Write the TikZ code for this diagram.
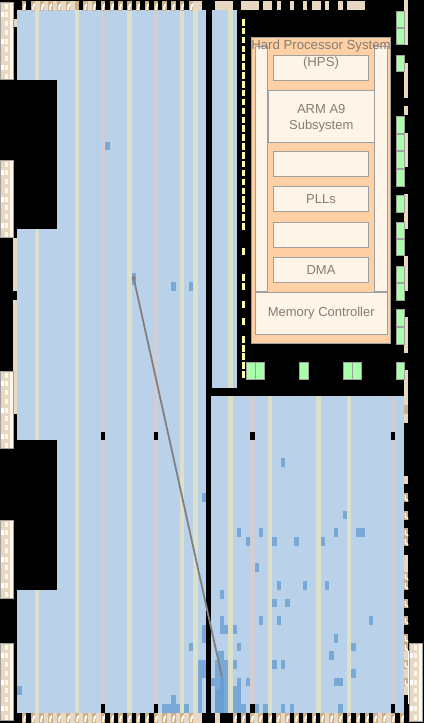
\documentclass[tikz,border=0pt]{standalone}
\usepackage{fontspec}
\setmainfont{Liberation Sans}
\usetikzlibrary{arrows.meta}
\definecolor{fabric}{HTML}{BAD1EA}
\definecolor{cellblue}{HTML}{78A8D6}
\definecolor{celldeep}{HTML}{6A9ED2}
\definecolor{dspstripe}{HTML}{DCE0C8}
\definecolor{ramstripe}{HTML}{D0CDD4}
\definecolor{padlight}{HTML}{E8D8C2}
\definecolor{paddark}{HTML}{CBB08A}
\definecolor{pinwin}{HTML}{FFF6EC}
\definecolor{hpsorange}{HTML}{FFD0A3}
\definecolor{hpscream}{HTML}{FFF4E8}
\definecolor{hpsedge}{HTML}{A0A0A0}
\definecolor{hpstext}{HTML}{857C74}
\definecolor{greencell}{HTML}{AAFFAA}
\definecolor{yellowcell}{HTML}{FFFFAA}
\tikzset{
  hpsblock/.style={draw=hpsedge,line width=0.9pt,fill=hpscream,text=hpstext,font=\fontsize{13}{16}\selectfont,align=center,inner sep=0pt,outer sep=0pt,anchor=north west},
  hpslabel/.style={text=hpstext,font=\fontsize{13.2}{16}\selectfont,inner sep=0pt},
  greenbox/.style={draw=hpsedge,line width=0.9pt,fill=greencell},
  linkarrow/.style={draw=gray,line width=1.8pt,-{Stealth[length=5pt,width=5pt]}}
}
% filled rectangle in pixel coordinates
\newcommand{\rr}[5]{\fill[#5] (#1,#2) rectangle (#3,#4);}
% vertical pin column
\newcommand{\pinbox}[3]{%
  \fill[padlight] (#1,#2) rectangle (#1+14,#3);
  \fill[pinwin] (#1+10,#2) rectangle (#1+13,#3);
  \pgfmathsetmacro{\rowsn}{int((#3-#2-4)/8.75)}
  \foreach \k in {0,...,\rowsn}{
    \pgfmathsetmacro{\yy}{#2+1.5+8.75*\k}
    \pgfmathsetmacro{\xo}{mod(\k,3)==0?5.5:(mod(\k,3)==1?1:5)}
    \fill[white] (#1+\xo,\yy) rectangle (#1+\xo+2.6,\yy+5);
    \fill[pinwin] (#1+5,\yy) rectangle (#1+8,\yy+5);
  }
  \draw[hpsedge,line width=1pt] (#1+.5,#2+.5) rectangle (#1+13.5,#3-.5);
}
% I/O pad with a white mark, horizontal rows
\newcommand{\padmark}[3]{%
  \fill[paddark] (#1,#3) rectangle (#2,#3+9.5);
  \fill[white] (#1+1.2,#3+8.8) -- (#1+1.6,#3+4) -- (#1+3.8,#3+2) -- (#1+3.8,#3+5) -- (#1+3.2,#3+6) -- (#1+3.2,#3+8.8) -- cycle;
}
% same on the right column
\newcommand{\sidemark}[2]{%
  \fill[paddark] (404,#1) rectangle (408,#2);
  \fill[white] (404.5,#1+2) -- (406,#1+2) -- (406,#1+5.5) -- (408.3,#1+7) -- (408.3,#1+8.5) -- (404.5,#1+6.5) -- cycle;
}
\begin{document}
\begin{tikzpicture}[x=1pt,y=-1pt]
\useasboundingbox (0,0) rectangle (424,723);
\fill[black] (0,0) rectangle (424,723);

% fabric
\rr{17}{10}{206}{713}{fabric}
\rr{212}{10}{237}{388}{fabric}
\rr{211}{396}{404}{713}{fabric}

% stripes left
\foreach \a/\b in {35/39,75/79,127/132,180/184,193/198}{\rr{\a}{10}{\b}{713}{dspstripe}}
\foreach \a/\b in {101/105,154/158}{\rr{\a}{10}{\b}{713}{ramstripe}}
% stripes right
\rr{228}{10}{233}{388}{dspstripe}
\foreach \a/\b in {228/233,268/272,316/321,347/351}{\rr{\a}{396}{\b}{713}{dspstripe}}
\foreach \a/\b in {250/255,391/395}{\rr{\a}{396}{\b}{713}{ramstripe}}

% used cells, left
\foreach \a/\b/\c/\d in {105/142/110/150,132/273/136/285,171/282/176/291,189/282/193/291,
  202/493/206/502,17/686/22/695,202/625/206/643,189/643/193/651,198/660/206/678,198/678/202/704,
  162/704/180/713,171/695/176/704,184/704/189/713,198/704/202/713}{\rr{\a}{\b}{\c}{\d}{cellblue}}
% used cells, right
\foreach \a/\b/\c/\d in {281/458/285/467,
  343/511/347/519,237/528/241/537,259/528/263/537,334/528/338/537,356/528/365/537,
  246/537/250/546,272/537/277/546,294/537/299/546,321/537/325/546,
  255/563/259/572,277/581/281/590,303/581/307/590,325/581/329/590,
  220/590/224/599,272/599/277/607,285/599/290/607,
  220/616/224/625,259/616/263/625,277/616/281/625,369/616/373/625,
  220/625/228/634,233/625/237/634,334/634/338/643,
  237/643/241/651,351/643/356/651,329/651/334/660,
  218/651/224/660,215/660/228/713,233/660/237/669,272/660/277/669,281/660/285/669,351/669/356/678,
  211/678/215/686,237/678/241/686,246/678/250/686,334/678/343/686,
  233/686/241/713,241/704/246/713,255/704/259/713,263/704/268/713,281/704/285/713,290/704/294/713,338/704/343/713}
  {\rr{\a}{\b}{\c}{\d}{cellblue}}
\rr{220}{678}{224}{713}{celldeep}
\rr{215}{690}{220}{713}{celldeep}

% black blocks
\rr{0}{80}{57}{229}{black}
\rr{0}{440}{57}{590}{black}
\foreach \a/\b in {101/105,154/158,250/255,391/395}{
  \rr{\a}{432}{\b}{440}{black}
  \rr{\a}{704}{\b}{713}{black}
}

% top pads
\foreach \a/\b in {31/79,83/96,193/202,215/233,241/259,263/272,277/281,290/294,303/307,312/321,325/329,338/343,347/365}{\rr{\a}{1}{\b}{10}{padlight}}
\foreach \a/\b in {22/26,31/35,40/44,48/53,57/61,66/70,83/88,92/96,101/105,110/114,118/123,127/132,136/140,145/149,154/158,162/167,171/176,180/184,189/193}{\padmark{\a}{\b}{1}}
\rr{75}{1}{79}{10}{paddark}

% bottom pads
\foreach \a/\b in {31/101,158/202,215/220,250/263,276/290,320/343,373/395}{\rr{\a}{713}{\b}{722.5}{padlight}}
\foreach \a/\b in {22/26,31/35,39/44,48/53,57/61,66/70,75/79,83/88,92/96,101/105,110/114,118/123,127/132,136/140,145/149,154/158,162/167,171/176,180/184,189/193,
  233/237,241/246,250/254,258/263,268/272,276/281,285/290,294/299,303/307,312/316,320/325,329/334,338/343,347/351,356/360,365/369,373/378,382/386,391/395,400/404}{\padmark{\a}{\b}{713}}

% left strip
\rr{13}{19}{17}{27}{padlight}
\rr{13}{238}{17}{291}{padlight}
\rr{13}{300}{17}{414}{padlight}

% right strip
\foreach \a/\b in {0/45,63/98,106/115,133/167,194/229,256/291,317/353,370/423,476/484,555/572,643/695}{\rr{404}{\a}{408}{\b}{padlight}}
\rr{404}{405}{408}{414}{paddark}
\foreach \a/\b in {493/502,511/520,528/537,537/546,572/581,581/590,599/608,616/625,634/643,643/651,660/669,678/686}{\sidemark{\a}{\b}}

% pin columns
\pinbox{0}{2}{80}
\pinbox{0}{160}{238}
\pinbox{0}{371}{449}
\pinbox{0}{520}{599}
\pinbox{0}{643}{721}
\pinbox{409}{643}{722}
\rr{408}{651}{409}{704}{white}

% yellow cells
\foreach \k in {0,...,23}{
  \pgfmathsetmacro{\yy}{19+8.87*\k}
  \rr{242}{\yy}{245}{\yy+6.5}{yellowcell}
}
\foreach \yy in {248,274,283,301,318,336,345,353,362,371}{\rr{242}{\yy}{245}{\yy+7}{yellowcell}}

% green cells
\foreach \a/\b in {11/27,28/44,55/71,116/133,134/150,151/168,169/186,195/212,222/238,239/255,266/282,283/300,309/326,327/344,362/379}{
  \draw[greenbox] (396.5,\a) rectangle (404.5,\b);
}
\foreach \a/\b in {246/255,255/264,299/308,343/352,352/361}{
  \draw[greenbox] (\a.5,362) rectangle (\b.5,379);
}

% HPS
\draw[draw=hpsedge,line width=0.9pt,fill=hpsorange] (251.5,37.5) rectangle (390.5,343);
\node[hpsblock,minimum width=12pt,minimum height=245pt] (hpsleft) at (255.5,46) {};
\node[hpsblock,minimum width=12.5pt,minimum height=245pt] (hpsright) at (374.5,46) {};
\node[hpsblock,minimum width=95pt,minimum height=24.5pt] (hpsbox) at (273.5,55.5) {};
\node[hpsblock,minimum width=105.5pt,minimum height=51.5pt] (armbox) at (268.5,90.5) {\rule{0pt}{14pt}ARM A9\\[0pt]Subsystem};
\node[hpsblock,minimum width=95pt,minimum height=25pt] (blanka) at (273.5,151.5) {};
\node[hpsblock,minimum width=95pt,minimum height=25pt] (pllbox) at (273.5,186.5) {PLLs};
\node[hpsblock,minimum width=95pt,minimum height=25pt] (blankb) at (273.5,222.5) {};
\node[hpsblock,minimum width=95pt,minimum height=24.5pt] (dmabox) at (273.5,257.5) {DMA};
\node[hpsblock,minimum width=131.5pt,minimum height=42pt] (membox) at (255.5,292.5) {Memory Controller};
\node[hpslabel] (hpstitle) at (321,46.5) {Hard Processor System};
\node[hpslabel] (hpssub) at (321,63) {(HPS)};

% critical path arrow
\coordinate (pathstart) at (222,677);
\coordinate (pathend) at (133,275);
\draw[linkarrow] (pathstart) -- (pathend);
\end{tikzpicture}
\end{document}
